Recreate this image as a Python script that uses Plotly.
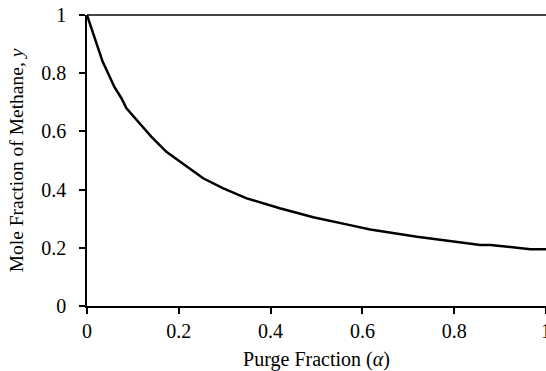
import plotly.graph_objects as go

# curve
alpha = [0.0, 0.013, 0.034, 0.060, 0.075, 0.086, 0.115, 0.140, 0.173, 0.200,
         0.253, 0.297, 0.348, 0.420, 0.493, 0.573, 0.617, 0.719, 0.791, 0.857,
         0.879, 0.966, 1.0]
y_methane = [1.0, 0.937, 0.840, 0.752, 0.714, 0.679, 0.628, 0.582, 0.530, 0.500,
             0.439, 0.404, 0.370, 0.336, 0.305, 0.278, 0.263, 0.238, 0.223, 0.210,
             0.210, 0.195, 0.195]

x_ticks = [0, 0.2, 0.4, 0.6, 0.8, 1]
x_ticktext = ["0", "0.2", "0.4", "0.6", "0.8", "1"]
y_ticks = [0, 0.2, 0.4, 0.6, 0.8, 1]
y_ticktext = ["0", "0.2", "0.4", "0.6", "0.8", "1"]

font = "Liberation Serif, Times New Roman, serif"

fig = go.Figure()

# gray line along the top of the plot area (drawn first, under the curve)
fig.add_shape(
    type="line", xref="paper", yref="paper", x0=0, x1=1, y0=1, y1=1,
    line=dict(color="#454545", width=2.2), layer="below",
)

fig.add_trace(
    go.Scatter(
        x=alpha,
        y=y_methane,
        mode="lines",
        line=dict(color="black", width=2.5),
        showlegend=False,
        cliponaxis=False,
        hoverinfo="skip",
    )
)

fig.update_layout(
    width=546,
    height=371,
    margin=dict(l=87, r=0, t=15, b=65),
    plot_bgcolor="white",
    paper_bgcolor="white",
    font=dict(family=font, size=20, color="black"),
    xaxis=dict(
        range=[0, 1],
        tickvals=x_ticks,
        ticktext=x_ticktext,
        ticks="outside",
        ticklen=6,
        tickwidth=1.5,
        tickcolor="black",
        ticklabeloverflow="allow",
        showline=True,
        linecolor="black",
        linewidth=1.5,
        showgrid=False,
        zeroline=False,
        automargin=False,
        title=dict(text="Purge Fraction (<i>α</i>)", font=dict(size=20), standoff=11),
    ),
    yaxis=dict(
        range=[0, 1],
        tickvals=y_ticks,
        ticktext=y_ticktext,
        ticks="outside",
        ticklen=6,
        tickwidth=1.5,
        tickcolor="black",
        ticklabelstandoff=9,
        showline=True,
        linecolor="black",
        linewidth=1.5,
        showgrid=False,
        zeroline=False,
        automargin=False,
        title=dict(text="Mole Fraction of Methane, <i>y</i>", font=dict(size=19.5), standoff=12),
    ),
)

fig.write_html(
    "out.html",
    config={"displayModeBar": False},
    post_script="document.body.style.margin='0';document.body.style.overflow='hidden';",
)
